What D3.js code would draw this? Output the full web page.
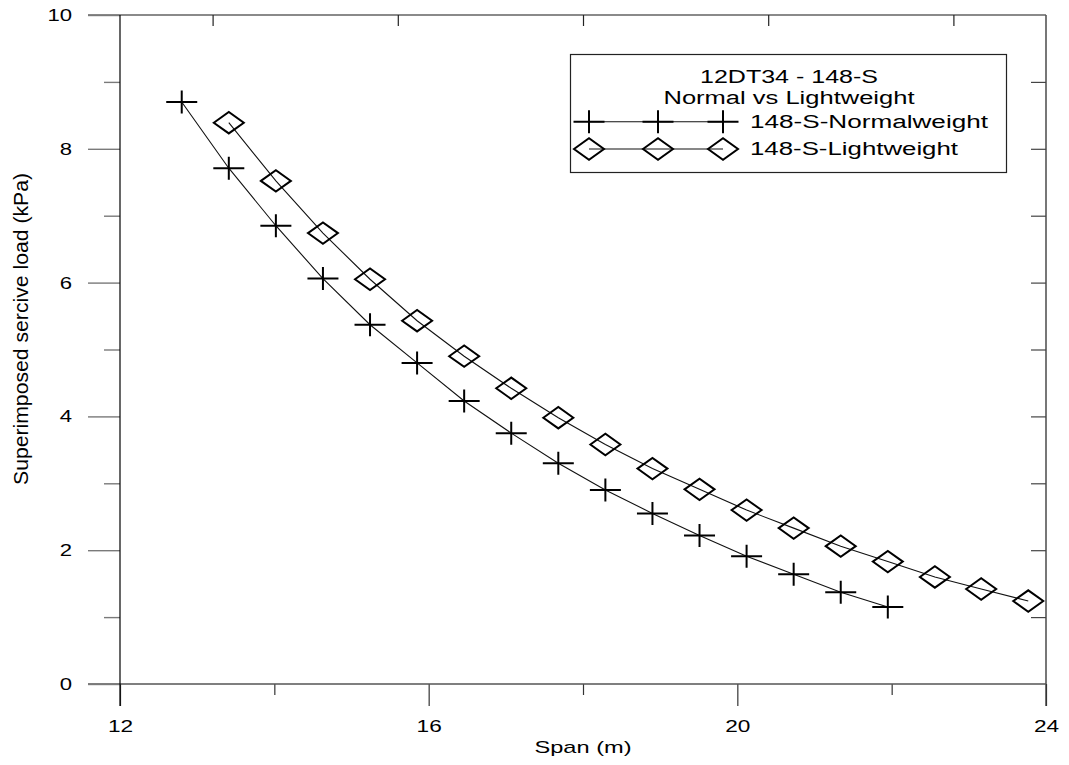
<!DOCTYPE html>
<html>
<head>
<meta charset="utf-8">
<script src="https://cdn.jsdelivr.net/npm/d3@7"></script>
<style>
  html, body { margin: 0; padding: 0; background: #fff; }
  svg { display: block; font-family: "Liberation Sans", Arial, sans-serif; }
</style>
</head>
<body>
<svg id="chart" width="1069" height="765"></svg>
<script>
// Span (m) and superimposed service load (kPa) for each section
const normalSpan = [12.80, 13.41, 14.02, 14.63, 15.24, 15.85, 16.46, 17.07, 17.68, 18.29, 18.90, 19.51, 20.12, 20.73, 21.34, 21.95];
const normalLoad = [8.70, 7.71, 6.85, 6.06, 5.37, 4.80, 4.23, 3.75, 3.30, 2.90, 2.55, 2.22, 1.91, 1.64, 1.37, 1.15];

const lightSpan = [13.41, 14.02, 14.63, 15.24, 15.85, 16.46, 17.07, 17.68, 18.29, 18.90, 19.51, 20.12, 20.73, 21.34, 21.95, 22.56, 23.16, 23.77];
const lightLoad = [8.39, 7.52, 6.74, 6.05, 5.43, 4.90, 4.42, 3.98, 3.58, 3.22, 2.91, 2.60, 2.33, 2.06, 1.83, 1.60, 1.42, 1.24];

const xMajorTicks = [12, 16, 20, 24];
const xMinorTicks = [14, 18, 22];
const xTopTicks = [13.2, 15.6, 18.0, 20.4, 22.8];
const yMajorTicks = [0, 2, 4, 6, 8, 10];
const yMinorTicks = [1, 3, 5, 7, 9];
const yRightTicks = [1, 2, 3, 4, 5, 6, 7, 8, 9];

const legendTitle = ["12DT34 - 148-S", "Normal vs Lightweight"];
const seriesNames = ["148-S-Normalweight", "148-S-Lightweight"];
const xTitle = "Span (m)";
const yTitle = "Superimposed sercive load (kPa)";

const svg = d3.select("#chart");
const plot = { left: 120, right: 1046, top: 15, bottom: 684 };

const x = d3.scaleLinear().domain([12, 24]).range([plot.left, plot.right]);
const y = d3.scaleLinear().domain([0, 10]).range([plot.bottom, plot.top]);

// widen glyphs horizontally by a set factor
function stretch(sel, factor) {
  sel.each(function () {
    const w = this.getComputedTextLength();
    d3.select(this).attr("textLength", w * factor).attr("lengthAdjust", "spacingAndGlyphs");
  });
}
function fitWidth(sel, width) {
  sel.attr("textLength", width).attr("lengthAdjust", "spacingAndGlyphs");
}

// frame: top and right edges
svg.append("line").attr("x1", plot.left - 32).attr("x2", plot.right).attr("y1", plot.top).attr("y2", plot.top)
  .attr("stroke", "#8a8a8a").attr("stroke-width", 2);
svg.append("line").attr("x1", plot.right).attr("x2", plot.right).attr("y1", plot.top).attr("y2", plot.bottom + 22)
  .attr("stroke", "#555").attr("stroke-width", 1.6);

// top ticks (inward)
svg.append("g").attr("transform", `translate(0,${plot.top})`)
  .call(d3.axisTop(x).tickValues(xTopTicks).tickSize(-11).tickFormat(""))
  .call(g => g.select(".domain").remove())
  .call(g => g.selectAll("line").attr("stroke", "#222").attr("stroke-width", 1.2));

// right ticks (inward)
svg.append("g").attr("transform", `translate(${plot.right},0)`)
  .call(d3.axisRight(y).tickValues(yRightTicks).tickSize(-15).tickFormat(""))
  .call(g => g.select(".domain").remove())
  .call(g => g.selectAll("line").attr("stroke", "#444").attr("stroke-width", 1.2));

// bottom axis
const xAxisG = svg.append("g").attr("transform", `translate(0,${plot.bottom})`);
xAxisG.call(d3.axisBottom(x).tickValues(xMajorTicks).tickSize(22).tickPadding(14).tickFormat(d3.format("d")))
  .call(g => g.select(".domain").remove())
  .call(g => g.selectAll("line").attr("stroke", "#333").attr("stroke-width", 1.2))
  .call(g => g.selectAll("text").attr("fill", "#000").style("font-size", "17px")
    .style("font-family", "'Liberation Sans', Arial, sans-serif"));
xAxisG.selectAll("text").call(stretch, 1.33);
svg.append("g").attr("transform", `translate(0,${plot.bottom})`)
  .call(d3.axisBottom(x).tickValues(xMinorTicks).tickSize(11).tickFormat(""))
  .call(g => g.select(".domain").remove())
  .call(g => g.selectAll("line").attr("stroke", "#333").attr("stroke-width", 1.2));
svg.append("line").attr("x1", plot.left - 32).attr("x2", plot.right).attr("y1", plot.bottom).attr("y2", plot.bottom)
  .attr("stroke", "#555").attr("stroke-width", 1.6);

// left axis
const yAxisG = svg.append("g").attr("transform", `translate(${plot.left},0)`);
yAxisG.call(d3.axisLeft(y).tickValues(yMajorTicks).tickSize(32).tickPadding(16).tickFormat(d3.format("d")))
  .call(g => g.select(".domain").remove())
  .call(g => g.selectAll("line").attr("stroke", "#7a7a7a").attr("stroke-width", 1.4))
  .call(g => g.selectAll("text").attr("fill", "#000").style("font-size", "17px")
    .style("font-family", "'Liberation Sans', Arial, sans-serif"));
yAxisG.selectAll("text").call(stretch, 1.3);
svg.append("g").attr("transform", `translate(${plot.left},0)`)
  .call(d3.axisLeft(y).tickValues(yMinorTicks).tickSize(16).tickFormat(""))
  .call(g => g.select(".domain").remove())
  .call(g => g.selectAll("line").attr("stroke", "#7a7a7a").attr("stroke-width", 1.4));
svg.append("line").attr("x1", plot.left).attr("x2", plot.left).attr("y1", plot.top).attr("y2", plot.bottom + 22)
  .attr("stroke", "#000").attr("stroke-width", 1.2);

// axis titles
svg.append("text").attr("x", (plot.left + plot.right) / 2).attr("y", 753)
  .attr("text-anchor", "middle").style("font-size", "17px").text(xTitle)
  .call(fitWidth, 97);
svg.append("text").attr("transform", "translate(28,329) rotate(-90)")
  .attr("text-anchor", "middle").style("font-size", "20px")
  .style("font-family", "'Liberation Sans Narrow', 'Arial Narrow', 'Liberation Sans', sans-serif")
  .text(yTitle).call(fitWidth, 312);

// series
const crossPath = "M-15.5,0H15.5M0,-11.5V11.5";
const diamondPath = "M-15,0L0,-10.7L15,0L0,10.7Z";

const series = [
  { name: seriesNames[0], pts: normalSpan.map((s, i) => [s, normalLoad[i]]), marker: crossPath },
  { name: seriesNames[1], pts: lightSpan.map((s, i) => [s, lightLoad[i]]), marker: diamondPath }
];

const line = d3.line().x(d => x(d[0])).y(d => y(d[1]));

series.forEach(s => {
  svg.append("path").attr("d", line(s.pts)).attr("fill", "none")
    .attr("stroke", "#111").attr("stroke-width", 1.1);
  svg.append("g").selectAll("path").data(s.pts).join("path")
    .attr("transform", d => `translate(${x(d[0])},${y(d[1])})`)
    .attr("d", s.marker).attr("fill", "none").attr("stroke", "#000").attr("stroke-width", 2);
});

// legend
const lg = svg.append("g");
lg.append("rect").attr("x", 570.5).attr("y", 54.5).attr("width", 436).attr("height", 118)
  .attr("fill", "#fff").attr("stroke", "#222").attr("stroke-width", 1.2);
lg.append("text").attr("x", 789).attr("y", 83).attr("text-anchor", "middle")
  .style("font-size", "18px").text(legendTitle[0]).call(fitWidth, 178);
lg.append("text").attr("x", 789).attr("y", 103.5).attr("text-anchor", "middle")
  .style("font-size", "18px").text(legendTitle[1]).call(fitWidth, 251);

const legendRows = [
  { y: 121.7, marker: crossPath, textY: 127.5, width: 238 },
  { y: 149, marker: diamondPath, textY: 154.5, width: 208 }
];
const legendXs = [589, 658, 723];
legendRows.forEach((r, i) => {
  lg.append("line").attr("x1", legendXs[0]).attr("x2", legendXs[2]).attr("y1", r.y).attr("y2", r.y)
    .attr("stroke", "#111").attr("stroke-width", 1.1);
  lg.selectAll(null).data(legendXs).join("path")
    .attr("transform", d => `translate(${d},${r.y})`)
    .attr("d", r.marker).attr("fill", "none").attr("stroke", "#000").attr("stroke-width", 2);
  lg.append("text").attr("x", 750).attr("y", r.textY)
    .style("font-size", "18px").text(series[i].name).call(fitWidth, r.width);
});
</script>
</body>
</html>
